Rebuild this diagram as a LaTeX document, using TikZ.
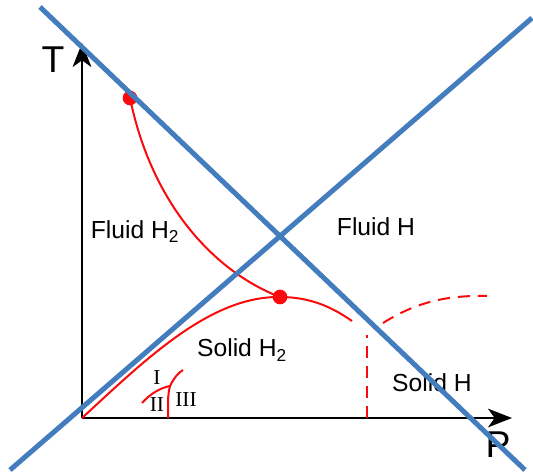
\documentclass[tikz,border=0pt]{standalone}
\usepackage{fontspec}
\setmainfont{Liberation Sans}
\newfontfamily\romanfont{Liberation Serif}
\usetikzlibrary{arrows.meta}
\definecolor{phblue}{RGB}{68,125,190}
\definecolor{phred}{RGB}{250,10,10}

\begin{document}
\begin{tikzpicture}[x=0.75pt,y=-0.75pt,
  axis/.style={line width=1.5pt,-{Stealth[length=18pt,width=14pt,inset=5pt]}},
  bound/.style={phblue,line width=3.75pt},
  melt/.style={phred,line width=1.5pt},
  phase/.style={font=\fontsize{18.5}{22}\selectfont},
  roman/.style={font=\romanfont\fontsize{16}{18}\selectfont}]
  \useasboundingbox (0,0) rectangle (533,475);

  % Axes
  \coordinate (origin) at (82,418);
  \coordinate (ttip) at (82,43);
  \coordinate (ptip) at (512,418);
  \draw[axis] (origin) -- (ttip);
  \draw[axis] (origin) -- (ptip);
  \node[font=\fontsize{28}{32}\selectfont] (tlabel) at (53,60) {T};
  \node[font=\fontsize{28}{32}\selectfont] (plabel) at (498,445) {P};

  % Critical points
  \coordinate (crit) at (130,98);
  \coordinate (triple) at (280,297);

  % Melting / transition lines
  \draw[melt] (crit) .. controls (152,205) and (215,272) .. (triple);
  \draw[melt] (origin) .. controls (145,360) and (210,296) .. (triple)
    .. controls (310,297) and (332,307) .. (352,321);
  \draw[melt, dash pattern=on 9pt off 6pt] (367,418) -- (367,335);
  \draw[melt, dash pattern=on 9pt off 6pt] (383,323) .. controls (415,303) and (445,295) .. (487,296);

  % Solid phases I, II, III
  \coordinate (junction) at (170,386);
  \draw[melt] (142,403) .. controls (150,394) and (160,388) .. (junction);
  \draw[melt] (junction) .. controls (174,378) and (178,373) .. (183,370);
  \draw[melt] (junction) .. controls (168,395) .. (168,418);
  \node[roman] (phaseI) at (157,378) {I};
  \node[roman] (phaseII) at (157,405) {II};
  \node[roman] (phaseIII) at (186,400) {III};

  \fill[phred] (crit) circle (5.5pt);
  \fill[phred] (triple) circle (5.5pt);

  % Phase labels
  \node[phase] (fluidmol) at (135,232) {Fluid H\textsubscript{2}};
  \node[phase] (fluidat) at (376,227) {Fluid H};
  \node[phase] (solidmol) at (242,350) {Solid H\textsubscript{2}};
  \node[phase] (solidat) at (432,383) {Solid H};

  % Boundary lines
  \draw[bound] (40,7) -- (525,470);
  \draw[bound] (10,470) -- (532,18);
\end{tikzpicture}
\end{document}
